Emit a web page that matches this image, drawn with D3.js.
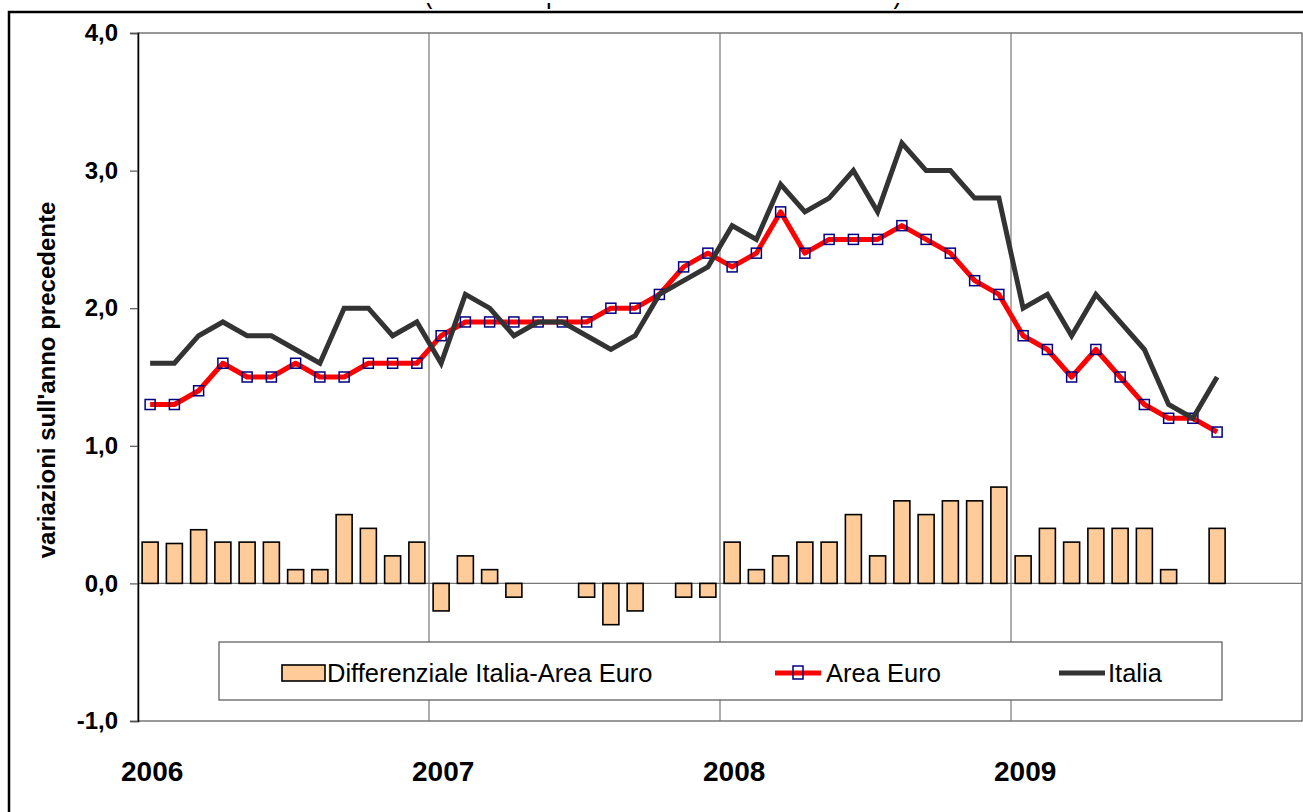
<!DOCTYPE html>
<html>
<head>
<meta charset="utf-8">
<script src="https://cdn.jsdelivr.net/npm/d3@7"></script>
<style>
  body { margin: 0; background: #fff; }
  svg { display: block; font-family: "Liberation Sans", Arial, sans-serif; }
</style>
</head>
<body>
<div id="chart"></div>
<script>
// data (monthly, Jan 2006 - Sep 2009)
var years = ["2006", "2007", "2008", "2009"];
var italia = [1.6,1.6,1.8,1.9,1.8,1.8,1.7,1.6,2.0,2.0,1.8,1.9,
              1.6,2.1,2.0,1.8,1.9,1.9,1.8,1.7,1.8,2.1,2.2,2.3,
              2.6,2.5,2.9,2.7,2.8,3.0,2.7,3.2,3.0,3.0,2.8,2.8,
              2.0,2.1,1.8,2.1,1.9,1.7,1.3,1.2,1.5];
var areaEuro = [1.3,1.3,1.4,1.6,1.5,1.5,1.6,1.5,1.5,1.6,1.6,1.6,
                1.8,1.9,1.9,1.9,1.9,1.9,1.9,2.0,2.0,2.1,2.3,2.4,
                2.3,2.4,2.7,2.4,2.5,2.5,2.5,2.6,2.5,2.4,2.2,2.1,
                1.8,1.7,1.5,1.7,1.5,1.3,1.2,1.2,1.1];
var differenziale = [0.3,0.29,0.39,0.3,0.3,0.3,0.1,0.1,0.5,0.4,0.2,0.3,
                     -0.2,0.2,0.1,-0.1,0,0,-0.1,-0.3,-0.2,0,-0.1,-0.1,
                     0.3,0.1,0.2,0.3,0.3,0.5,0.2,0.6,0.5,0.6,0.6,0.7,
                     0.2,0.4,0.3,0.4,0.4,0.4,0.1,0,0.4];
var yTicks = [-1, 0, 1, 2, 3, 4];
var legendLabels = ["Differenziale Italia-Area Euro", "Area Euro", "Italia"];

var W = 1303, H = 812;
var plot = {left: 138, right: 1302, top: 33, bottom: 721};

var svg = d3.select("#chart").append("svg")
    .attr("width", W)
    .attr("height", H);

// title, cut off at the top of the picture: only the descenders show
svg.append("clipPath").attr("id", "titleclip")
  .append("rect")
    .attr("x", 0).attr("y", 3)
    .attr("width", W).attr("height", 9);

svg.append("text")
    .attr("clip-path", "url(#titleclip)")
    .attr("x", 663)
    .attr("y", 3)
    .attr("text-anchor", "middle")
    .attr("textLength", 478)
    .attr("lengthAdjust", "spacingAndGlyphs")
    .style("font-size", "30px")
    .text("(indice dei prezzi al consumo armonizzato)");

// outer border
svg.append("rect")
    .attr("x", 9).attr("y", 12)
    .attr("width", 1400).attr("height", 900)
    .attr("fill", "none")
    .attr("stroke", "#000")
    .attr("stroke-width", 2.5);

var x = d3.scaleBand()
    .domain(d3.range(48))
    .range([plot.left, plot.right])
    .paddingInner(0.34)
    .paddingOuter(0.17);

var y = d3.scaleLinear()
    .domain([-1, 4])
    .range([plot.bottom, plot.top]);

var it = d3.formatLocale({decimal: ",", thousands: ".", grouping: [3], currency: ["€", ""], minus: "-"});
var fmt = it.format(".1f");

// plot frame
svg.append("rect")
    .attr("x", plot.left).attr("y", plot.top)
    .attr("width", plot.right - plot.left)
    .attr("height", plot.bottom - plot.top)
    .attr("fill", "#fff")
    .attr("stroke", "#555")
    .attr("stroke-width", 1.2);

// year separators
svg.append("g")
  .selectAll("line")
  .data([12, 24, 36])
  .enter().append("line")
    .attr("x1", function(d) { return plot.left + d * x.step(); })
    .attr("x2", function(d) { return plot.left + d * x.step(); })
    .attr("y1", plot.top).attr("y2", plot.bottom)
    .attr("stroke", "#777")
    .attr("stroke-width", 1.2);

// zero line
svg.append("line")
    .attr("x1", plot.left).attr("x2", plot.right)
    .attr("y1", y(0)).attr("y2", y(0))
    .attr("stroke", "#777")
    .attr("stroke-width", 1.2);

// y axis
var yAxis = svg.append("g")
    .attr("transform", "translate(" + plot.left + ",0)")
    .call(d3.axisLeft(y).tickValues(yTicks).tickSize(8).tickPadding(12).tickFormat(fmt));
yAxis.select(".domain").attr("stroke", "#000").attr("stroke-width", 1.5);
yAxis.selectAll(".tick line").attr("stroke", "#555").attr("stroke-width", 1.2);
yAxis.selectAll(".tick text")
    .style("font-size", "24px")
    .style("font-weight", "bold")
    .attr("fill", "#000");

// y axis title
svg.append("text")
    .attr("transform", "translate(55,380) rotate(-90)")
    .attr("text-anchor", "middle")
    .style("font-size", "24px")
    .style("font-weight", "bold")
    .text("variazioni sull'anno precedente");

// year labels
var xAxis = svg.append("g")
    .attr("transform", "translate(2," + 781 + ")")
    .call(d3.axisBottom(x).tickValues([0, 12, 24, 36]).tickSize(0).tickPadding(0)
      .tickFormat(function(d) { return years[d / 12]; }));
xAxis.select(".domain").remove();
xAxis.selectAll(".tick text")
    .attr("dy", 0)
    .style("font-size", "28px")
    .style("font-weight", "bold")
    .attr("fill", "#000");

// bars: differential
svg.append("g")
  .selectAll("rect")
  .data(differenziale.map(function(v, i) { return {i: i, v: v}; }).filter(function(d) { return d.v !== 0; }))
  .enter().append("rect")
    .attr("x", function(d) { return x(d.i); })
    .attr("y", function(d) { return y(Math.max(0, d.v)); })
    .attr("width", x.bandwidth())
    .attr("height", function(d) { return Math.abs(y(d.v) - y(0)); })
    .attr("fill", "#FFCC99")
    .attr("stroke", "#000")
    .attr("stroke-width", 1.6);

var line = d3.line()
    .x(function(d, i) { return x(i) + x.bandwidth() / 2; })
    .y(function(d) { return y(d); });

// Area Euro
svg.append("path")
    .datum(areaEuro)
    .attr("d", line)
    .attr("fill", "none")
    .attr("stroke", "#FF0000")
    .attr("stroke-width", 5)
    .attr("stroke-linejoin", "round");

svg.append("g")
  .selectAll("rect")
  .data(areaEuro)
  .enter().append("rect")
    .attr("x", function(d, i) { return x(i) + x.bandwidth() / 2 - 5; })
    .attr("y", function(d) { return y(d) - 5; })
    .attr("width", 10).attr("height", 10)
    .attr("fill", "none")
    .attr("stroke", "#000080")
    .attr("stroke-width", 1.5);

// Italia
svg.append("path")
    .datum(italia)
    .attr("d", line)
    .attr("fill", "none")
    .attr("stroke", "#333333")
    .attr("stroke-width", 5)
    .attr("stroke-linejoin", "miter");

// legend
var lg = svg.append("g");
lg.append("rect")
    .attr("x", 219).attr("y", 642)
    .attr("width", 1003).attr("height", 58)
    .attr("fill", "#fff")
    .attr("stroke", "#555")
    .attr("stroke-width", 1.2);

lg.append("rect")
    .attr("x", 282).attr("y", 665)
    .attr("width", 43).attr("height", 16)
    .attr("fill", "#FFCC99")
    .attr("stroke", "#000")
    .attr("stroke-width", 1.6);

lg.append("line")
    .attr("x1", 775).attr("x2", 821)
    .attr("y1", 673).attr("y2", 673)
    .attr("stroke", "#FF0000").attr("stroke-width", 5);
lg.append("rect")
    .attr("x", 793).attr("y", 666)
    .attr("width", 10).attr("height", 13)
    .attr("fill", "none")
    .attr("stroke", "#000080").attr("stroke-width", 1.5);

lg.append("line")
    .attr("x1", 1059).attr("x2", 1105)
    .attr("y1", 673).attr("y2", 673)
    .attr("stroke", "#333333").attr("stroke-width", 5);

lg.selectAll("text.lbl")
  .data(legendLabels)
  .enter().append("text")
    .attr("class", "lbl")
    .attr("x", function(d, i) { return [327, 826, 1108][i]; })
    .attr("y", 682)
    .style("font-size", "25.5px")
    .text(function(d) { return d; });
</script>
</body>
</html>
